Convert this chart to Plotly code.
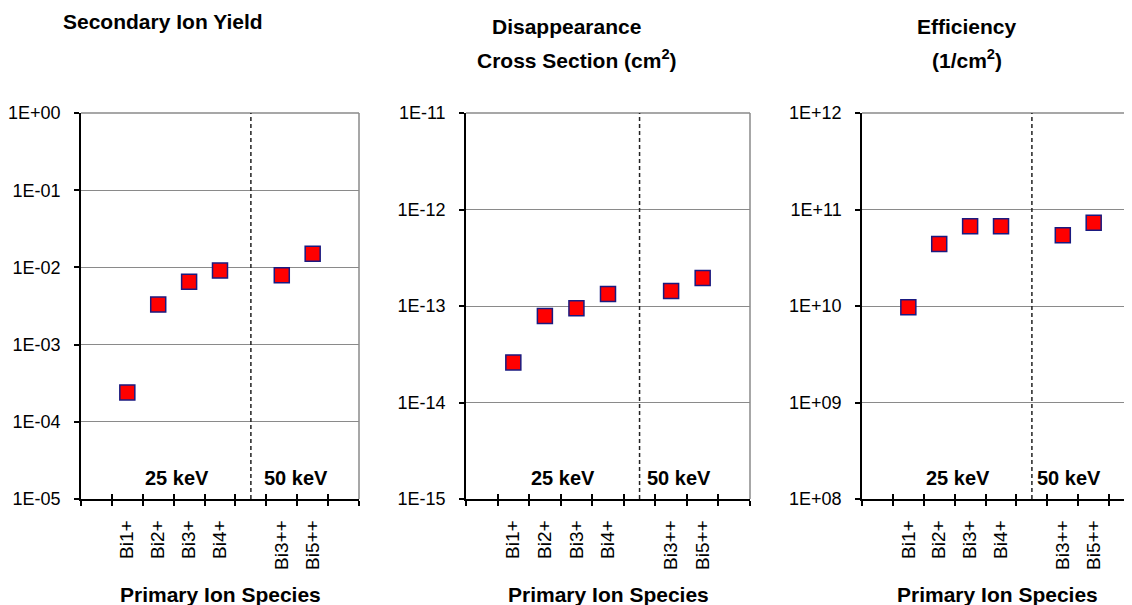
import plotly.graph_objects as go

# ---------------- data ----------------
slots = [" ", "Bi1+", "Bi2+", "Bi3+", "Bi4+", "  ", "Bi3++", "Bi5++", "   "]
species = ["Bi1+", "Bi2+", "Bi3+", "Bi4+", "Bi3++", "Bi5++"]
yield_vals = [2.4e-4, 3.3e-3, 6.5e-3, 9.1e-3, 7.9e-3, 1.5e-2]
cross_vals = [2.6e-14, 7.9e-14, 9.5e-14, 1.33e-13, 1.43e-13, 1.95e-13]
eff_vals = [9.7e9, 4.4e10, 6.7e10, 6.7e10, 5.4e10, 7.3e10]
yield_exp = [-5, -4, -3, -2, -1, 0]
cross_exp = [-15, -14, -13, -12, -11]
eff_exp = [8, 9, 10, 11, 12]
energy_labels = ["25 keV", "50 keV"]
axis_title = "Primary Ion Species"

FONT = "Liberation Sans, Arial, sans-serif"
GRID = "#8a8a8a"

# page body has an 8px margin: size the figure so it fills the 1132x605 window
OFF = 8
W, H = 1132 - OFF, 605 - OFF


def px(x):
    return (x - OFF) / W


def py(y):
    return 1 - (y - OFF) / H


panels = [
    dict(vals=yield_vals, exps=yield_exp, dom=[px(81), px(359)], xr=[-0.5, 8.5],
         right=True, shift50=11),
    dict(vals=cross_vals, exps=cross_exp, dom=[px(466), px(750)], xr=[-0.5, 8.5],
         right=True, shift50=5),
    dict(vals=eff_vals, exps=eff_exp, dom=[px(862), 1.0], xr=[-0.5, 8.24],
         right=False, shift50=3),
]
YDOM = [py(499), py(113)]

fig = go.Figure()
shapes = []
annotations = []

for i, p in enumerate(panels):
    n = i + 1
    xa = "x" if n == 1 else f"x{n}"
    ya = "y" if n == 1 else f"y{n}"
    ov = f"x{n + 3}"
    # dummy traces to register every slot category
    fig.add_trace(go.Scatter(x=slots, y=[None] * len(slots), mode="markers",
                             xaxis=xa, yaxis=ya, hoverinfo="skip", showlegend=False))
    fig.add_trace(go.Scatter(x=slots, y=[None] * len(slots), mode="markers",
                             xaxis=ov, yaxis=ya, hoverinfo="skip", showlegend=False))
    fig.add_trace(go.Scatter(
        x=species, y=p["vals"], mode="markers", xaxis=xa, yaxis=ya, showlegend=False,
        marker=dict(symbol="square", size=15, color="#ff0000",
                    line=dict(color="#1a1a80", width=1.5)),
    ))

    xkey = "xaxis" if n == 1 else f"xaxis{n}"
    ykey = "yaxis" if n == 1 else f"yaxis{n}"
    lo, hi = min(p["exps"]), max(p["exps"])
    fig.layout[xkey] = dict(
        domain=p["dom"], anchor=ya, type="category", categoryorder="array",
        categoryarray=slots, range=p["xr"], tickson="boundaries",
        ticks="outside", ticklen=5, tickwidth=1.5, tickcolor="black",
        showline=True, linecolor="black", linewidth=1.5, showgrid=False,
        tickangle=-90, tickfont=dict(family=FONT, size=19, color="black"),
        ticklabelstandoff=12, fixedrange=True, automargin=False,
    )
    fig.layout[f"xaxis{n + 3}"] = dict(
        overlaying=xa, anchor=ya, type="category", categoryorder="array",
        categoryarray=slots, range=p["xr"], tickson="boundaries",
        ticks="inside", ticklen=5, tickwidth=1.5, tickcolor="black",
        showticklabels=False, showline=False, showgrid=False, fixedrange=True,
        automargin=False,
    )
    fig.layout[ykey] = dict(
        domain=YDOM, anchor=xa, type="log", range=[lo, hi],
        tickvals=[10.0 ** e for e in p["exps"]],
        ticktext=[f"1E{e:+03d}" for e in p["exps"]],
        ticks="outside", ticklen=5, tickwidth=1.5, tickcolor="black",
        showline=True, linecolor="black", linewidth=1.5,
        showgrid=True, gridcolor=GRID, gridwidth=1,
        tickfont=dict(family=FONT, size=18, color="black"),
        ticklabelstandoff=10, fixedrange=True, automargin=False,
    )

    dx = f"{xa} domain"
    dy = f"{ya} domain"
    # top border
    shapes.append(dict(type="line", xref=dx, yref=dy, x0=0, x1=1, y0=1, y1=1,
                       line=dict(color=GRID, width=1.5)))
    if p["right"]:
        shapes.append(dict(type="line", xref=dx, yref=dy, x0=1, x1=1, y0=0, y1=1,
                           line=dict(color=GRID, width=1.5)))
    # dashed separator between energy groups
    shapes.append(dict(type="line", xref=xa, yref=dy, x0=5, x1=5, y0=0, y1=1,
                       line=dict(color="#222222", width=1.5, dash="4px,3px")))

    annotations.append(dict(text=f"<b>{energy_labels[0]}</b>", xref=xa, yref="paper",
                            x=1.5, y=py(478), xanchor="left", yanchor="middle",
                            showarrow=False, font=dict(family=FONT, size=20, color="black")))
    annotations.append(dict(text=f"<b>{energy_labels[1]}</b>", xref=xa, yref="paper",
                            x=5, xshift=p["shift50"], y=py(478), xanchor="left",
                            yanchor="middle", showarrow=False,
                            font=dict(family=FONT, size=20, color="black")))
    annotations.append(dict(text=f"<b>{axis_title}</b>", xref=dx, yref="paper",
                            x=0.5, y=py(594), xanchor="center", yanchor="middle",
                            showarrow=False, font=dict(family=FONT, size=21, color="black")))

titles = [
    ("<b>Secondary Ion Yield</b>", 163, 22),
    ("<b>Disappearance</b>", 566, 26),
    ("<b>Cross Section (cm<sup>2</sup>)</b>", 577, 59),
    ("<b>Efficiency</b>", 967, 26),
    ("<b>(1/cm<sup>2</sup>)</b>", 967, 59),
]
for t, x, y in titles:
    annotations.append(dict(text=t, xref="paper", yref="paper", x=px(x), y=py(y),
                            xanchor="center", yanchor="middle", showarrow=False,
                            font=dict(family=FONT, size=21, color="black")))

fig.update_layout(
    width=W, height=H, margin=dict(l=0, r=0, t=0, b=0, pad=0, autoexpand=False),
    paper_bgcolor="white", plot_bgcolor="white", showlegend=False,
    shapes=shapes, annotations=annotations,
    font=dict(family=FONT, color="black"),
)

fig.write_html("out.html")
